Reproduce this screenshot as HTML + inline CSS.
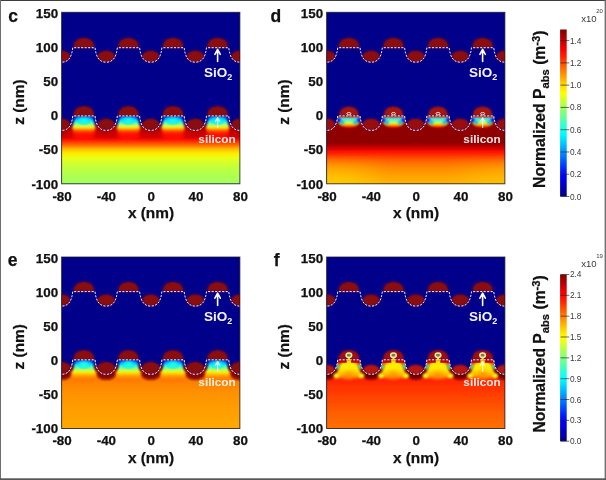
<!DOCTYPE html>
<html lang="en"><head><meta charset="utf-8"><title>Normalized absorbed power maps</title>
<style>
html,body{margin:0;padding:0;background:#fff;}
body{width:606px;height:480px;overflow:hidden;position:relative;font-family:"Liberation Sans",sans-serif;}
svg{position:absolute;left:0;top:0;display:block;font-family:"Liberation Sans",sans-serif;}
.frame{position:absolute;left:0;top:0;width:606px;height:480px;box-sizing:border-box;
 border-top:1px solid #3c3c3c;border-left:1px solid #7a7a7a;border-right:2px solid #777;border-bottom:2px solid #555;pointer-events:none;}
</style></head><body>
<svg width="606" height="480" viewBox="0 0 606 480">
<defs><filter id="b05" x="-10%" y="-10%" width="120%" height="120%"><feGaussianBlur stdDeviation="0.55"/></filter><filter id="b08" x="-10%" y="-10%" width="120%" height="120%"><feGaussianBlur stdDeviation="0.8"/></filter><filter id="b1" x="-30%" y="-30%" width="160%" height="160%"><feGaussianBlur stdDeviation="1.1"/></filter><filter id="b2" x="-40%" y="-40%" width="180%" height="180%"><feGaussianBlur stdDeviation="2"/></filter><filter id="b3" x="-50%" y="-50%" width="200%" height="200%"><feGaussianBlur stdDeviation="3"/></filter><filter id="bt" x="-10%" y="-10%" width="120%" height="120%"><feGaussianBlur stdDeviation="0.35"/></filter><clipPath id="cpPanel"><rect x="0" y="0" width="178.3" height="171.5"/></clipPath><clipPath id="cpSil"><path d="M -11.14,103.6 C -10.14,112.6 -7.3,118.1 0,118.1 C 7.3,118.1 10.14,112.6 11.14,103.6 L 33.43,103.6 C 34.43,112.6 37.28,118.1 44.58,118.1 C 51.88,118.1 54.72,112.6 55.72,103.6 L 78.01,103.6 C 79.01,112.6 81.85,118.1 89.15,118.1 C 96.45,118.1 99.29,112.6 100.29,103.6 L 122.58,103.6 C 123.58,112.6 126.43,118.1 133.73,118.1 C 141.03,118.1 143.87,112.6 144.87,103.6 L 167.16,103.6 C 168.16,112.6 171,118.1 178.3,118.1 C 185.6,118.1 188.44,112.6 189.44,103.6 L 189.44,176.5 L -11.14,176.5 Z"/></clipPath><clipPath id="cpAirL"><path d="M -11.14,103.6 C -10.14,112.6 -7.3,118.1 0,118.1 C 7.3,118.1 10.14,112.6 11.14,103.6 L 33.43,103.6 C 34.43,112.6 37.28,118.1 44.58,118.1 C 51.88,118.1 54.72,112.6 55.72,103.6 L 78.01,103.6 C 79.01,112.6 81.85,118.1 89.15,118.1 C 96.45,118.1 99.29,112.6 100.29,103.6 L 122.58,103.6 C 123.58,112.6 126.43,118.1 133.73,118.1 C 141.03,118.1 143.87,112.6 144.87,103.6 L 167.16,103.6 C 168.16,112.6 171,118.1 178.3,118.1 C 185.6,118.1 188.44,112.6 189.44,103.6 L 189.44,63.6 L -11.14,63.6 Z"/></clipPath><clipPath id="cpAirU"><path d="M -11.14,35.4 C -10.14,44.4 -7.3,49.9 0,49.9 C 7.3,49.9 10.14,44.4 11.14,35.4 L 33.43,35.4 C 34.43,44.4 37.28,49.9 44.58,49.9 C 51.88,49.9 54.72,44.4 55.72,35.4 L 78.01,35.4 C 79.01,44.4 81.85,49.9 89.15,49.9 C 96.45,49.9 99.29,44.4 100.29,35.4 L 122.58,35.4 C 123.58,44.4 126.43,49.9 133.73,49.9 C 141.03,49.9 143.87,44.4 144.87,35.4 L 167.16,35.4 C 168.16,44.4 171,49.9 178.3,49.9 C 185.6,49.9 188.44,44.4 189.44,35.4 L 189.44,-4.6 L -11.14,-4.6 Z"/></clipPath><linearGradient id="gbc" gradientUnits="userSpaceOnUse" x1="0" y1="103.6" x2="0" y2="171.5"><stop offset="0" stop-color="#fa0000"/><stop offset="0.2" stop-color="#f00000"/><stop offset="0.26" stop-color="#f50000"/><stop offset="0.32" stop-color="#ff0500"/><stop offset="0.37" stop-color="#ff2900"/><stop offset="0.43" stop-color="#ff6b00"/><stop offset="0.48" stop-color="#ffb300"/><stop offset="0.55" stop-color="#ffeb00"/><stop offset="0.62" stop-color="#ebff14"/><stop offset="0.7" stop-color="#d1ff2e"/><stop offset="0.79" stop-color="#bdff42"/><stop offset="0.89" stop-color="#adff52"/><stop offset="1" stop-color="#a3ff5c"/></linearGradient><linearGradient id="gpc" gradientUnits="userSpaceOnUse" x1="0" y1="103.6" x2="0" y2="126.6"><stop offset="0" stop-color="#0000fa"/><stop offset="0.07" stop-color="#0075ff"/><stop offset="0.17" stop-color="#00e5ff"/><stop offset="0.28" stop-color="#2effd1"/><stop offset="0.37" stop-color="#80ff80"/><stop offset="0.44" stop-color="#d1ff2e"/><stop offset="0.5" stop-color="#fff000"/><stop offset="0.57" stop-color="#ff9e00"/><stop offset="0.63" stop-color="#ff5700"/><stop offset="0.72" stop-color="#ff2400"/><stop offset="0.83" stop-color="#ff0f00"/><stop offset="1" stop-color="#ff0500"/></linearGradient><radialGradient id="rgc"><stop offset="0" stop-color="#1affe5" stop-opacity="0.95"/><stop offset="0.55" stop-color="#00f0ff" stop-opacity="0.6"/><stop offset="1" stop-color="#00b2ff" stop-opacity="0"/></radialGradient><linearGradient id="gbd" gradientUnits="userSpaceOnUse" x1="0" y1="103.6" x2="0" y2="171.5"><stop offset="0" stop-color="#8f0000"/><stop offset="0.4" stop-color="#8f0000"/><stop offset="0.44" stop-color="#b30000"/><stop offset="0.49" stop-color="#e50000"/><stop offset="0.55" stop-color="#ff1f00"/><stop offset="0.64" stop-color="#ff5700"/><stop offset="0.7" stop-color="#ff7300"/><stop offset="0.79" stop-color="#ff8f00"/><stop offset="0.92" stop-color="#ffa800"/><stop offset="1" stop-color="#ffb300"/></linearGradient><linearGradient id="gpd" gradientUnits="userSpaceOnUse" x1="0" y1="103.6" x2="0" y2="116.1"><stop offset="0" stop-color="#9e0000"/><stop offset="0.14" stop-color="#b30000"/><stop offset="0.21" stop-color="#05fffa"/><stop offset="0.34" stop-color="#2effd1"/><stop offset="0.48" stop-color="#94ff6b"/><stop offset="0.62" stop-color="#fff000"/><stop offset="0.74" stop-color="#ff8a00"/><stop offset="0.85" stop-color="#ff0f00"/><stop offset="1" stop-color="#9e0000"/></linearGradient><linearGradient id="gdh" gradientUnits="userSpaceOnUse" x1="0" y1="0" x2="178.3" y2="0"><stop offset="0" stop-color="#ffd800" stop-opacity="0.62"/><stop offset="0.16" stop-color="#ffd800" stop-opacity="0.45"/><stop offset="0.36" stop-color="#ffd000" stop-opacity="0"/><stop offset="0.66" stop-color="#ffd000" stop-opacity="0"/><stop offset="0.88" stop-color="#ffd400" stop-opacity="0.3"/><stop offset="1" stop-color="#ffd400" stop-opacity="0.4"/></linearGradient><linearGradient id="gdv" gradientUnits="userSpaceOnUse" x1="0" y1="141.6" x2="0" y2="165.6"><stop offset="0" stop-color="#000"/><stop offset="0.35" stop-color="#555"/><stop offset="1" stop-color="#fff"/></linearGradient><mask id="mdv" maskUnits="userSpaceOnUse" x="0" y="139.6" width="178.3" height="40"><rect x="0" y="139.6" width="178.3" height="40" fill="url(#gdv)"/></mask><linearGradient id="gbe" gradientUnits="userSpaceOnUse" x1="0" y1="103.6" x2="0" y2="171.5"><stop offset="0" stop-color="#ff7500"/><stop offset="0.21" stop-color="#ff7500"/><stop offset="0.32" stop-color="#ff8000"/><stop offset="0.46" stop-color="#ff8f00"/><stop offset="0.68" stop-color="#ff9c00"/><stop offset="1" stop-color="#ffa800"/></linearGradient><linearGradient id="gpe" gradientUnits="userSpaceOnUse" x1="0" y1="103.6" x2="0" y2="126.6"><stop offset="0" stop-color="#0000fa"/><stop offset="0.09" stop-color="#0080ff"/><stop offset="0.2" stop-color="#00f0ff"/><stop offset="0.3" stop-color="#38ffc7"/><stop offset="0.39" stop-color="#8aff75"/><stop offset="0.48" stop-color="#d6ff29"/><stop offset="0.54" stop-color="#fff000"/><stop offset="0.61" stop-color="#ffc700"/><stop offset="0.7" stop-color="#ff9e00"/><stop offset="0.78" stop-color="#ff8000"/><stop offset="1" stop-color="#ff7500"/></linearGradient><radialGradient id="rge"><stop offset="0" stop-color="#2effd1" stop-opacity="0.95"/><stop offset="0.55" stop-color="#00faff" stop-opacity="0.6"/><stop offset="1" stop-color="#00b2ff" stop-opacity="0"/></radialGradient><linearGradient id="gbf" gradientUnits="userSpaceOnUse" x1="0" y1="103.6" x2="0" y2="171.5"><stop offset="0" stop-color="#ff2400"/><stop offset="0.21" stop-color="#ff2400"/><stop offset="0.32" stop-color="#ff2700"/><stop offset="0.54" stop-color="#ff4200"/><stop offset="0.76" stop-color="#ff5c00"/><stop offset="1" stop-color="#ff7000"/></linearGradient><linearGradient id="gpf" gradientUnits="userSpaceOnUse" x1="0" y1="103.6" x2="0" y2="125.1"><stop offset="0" stop-color="#ffdb00"/><stop offset="0.28" stop-color="#fff000"/><stop offset="0.51" stop-color="#ffe000"/><stop offset="0.7" stop-color="#ffb300"/><stop offset="0.86" stop-color="#ff6100"/><stop offset="1" stop-color="#ff1a00"/></linearGradient><linearGradient id="gcb1" gradientUnits="userSpaceOnUse" x1="0" y1="29.5" x2="0" y2="196.5"><stop offset="0" stop-color="#800000"/><stop offset="0.03" stop-color="#9f0000"/><stop offset="0.06" stop-color="#bf0000"/><stop offset="0.09" stop-color="#df0000"/><stop offset="0.12" stop-color="#ff0000"/><stop offset="0.16" stop-color="#ff2000"/><stop offset="0.19" stop-color="#ff4000"/><stop offset="0.22" stop-color="#ff6000"/><stop offset="0.25" stop-color="#ff8000"/><stop offset="0.28" stop-color="#ff9f00"/><stop offset="0.31" stop-color="#ffbf00"/><stop offset="0.34" stop-color="#ffdf00"/><stop offset="0.38" stop-color="#ffff00"/><stop offset="0.41" stop-color="#dfff20"/><stop offset="0.44" stop-color="#bfff40"/><stop offset="0.47" stop-color="#9fff60"/><stop offset="0.5" stop-color="#80ff80"/><stop offset="0.53" stop-color="#60ff9f"/><stop offset="0.56" stop-color="#40ffbf"/><stop offset="0.59" stop-color="#20ffdf"/><stop offset="0.62" stop-color="#00ffff"/><stop offset="0.66" stop-color="#00dfff"/><stop offset="0.69" stop-color="#00bfff"/><stop offset="0.72" stop-color="#009fff"/><stop offset="0.75" stop-color="#0080ff"/><stop offset="0.78" stop-color="#0060ff"/><stop offset="0.81" stop-color="#0040ff"/><stop offset="0.84" stop-color="#0020ff"/><stop offset="0.88" stop-color="#0000ff"/><stop offset="0.91" stop-color="#0000df"/><stop offset="0.94" stop-color="#0000bf"/><stop offset="0.97" stop-color="#00009f"/><stop offset="1" stop-color="#000080"/></linearGradient><linearGradient id="gcb2" gradientUnits="userSpaceOnUse" x1="0" y1="274.5" x2="0" y2="441.2"><stop offset="0" stop-color="#800000"/><stop offset="0.03" stop-color="#9f0000"/><stop offset="0.06" stop-color="#bf0000"/><stop offset="0.09" stop-color="#df0000"/><stop offset="0.12" stop-color="#ff0000"/><stop offset="0.16" stop-color="#ff2000"/><stop offset="0.19" stop-color="#ff4000"/><stop offset="0.22" stop-color="#ff6000"/><stop offset="0.25" stop-color="#ff8000"/><stop offset="0.28" stop-color="#ff9f00"/><stop offset="0.31" stop-color="#ffbf00"/><stop offset="0.34" stop-color="#ffdf00"/><stop offset="0.38" stop-color="#ffff00"/><stop offset="0.41" stop-color="#dfff20"/><stop offset="0.44" stop-color="#bfff40"/><stop offset="0.47" stop-color="#9fff60"/><stop offset="0.5" stop-color="#80ff80"/><stop offset="0.53" stop-color="#60ff9f"/><stop offset="0.56" stop-color="#40ffbf"/><stop offset="0.59" stop-color="#20ffdf"/><stop offset="0.62" stop-color="#00ffff"/><stop offset="0.66" stop-color="#00dfff"/><stop offset="0.69" stop-color="#00bfff"/><stop offset="0.72" stop-color="#009fff"/><stop offset="0.75" stop-color="#0080ff"/><stop offset="0.78" stop-color="#0060ff"/><stop offset="0.81" stop-color="#0040ff"/><stop offset="0.84" stop-color="#0020ff"/><stop offset="0.88" stop-color="#0000ff"/><stop offset="0.91" stop-color="#0000df"/><stop offset="0.94" stop-color="#0000bf"/><stop offset="0.97" stop-color="#00009f"/><stop offset="1" stop-color="#000080"/></linearGradient></defs>
<g transform="translate(61.6,12.3)"><g clip-path="url(#cpPanel)"><rect x="-1" y="-1" width="180.3" height="173.5" fill="#00008a"/><g transform="translate(0,0)"><g filter="url(#b05)"><path d="M -11.14,103.6 C -10.14,112.6 -7.3,118.1 0,118.1 C 7.3,118.1 10.14,112.6 11.14,103.6 L 33.43,103.6 C 34.43,112.6 37.28,118.1 44.58,118.1 C 51.88,118.1 54.72,112.6 55.72,103.6 L 78.01,103.6 C 79.01,112.6 81.85,118.1 89.15,118.1 C 96.45,118.1 99.29,112.6 100.29,103.6 L 122.58,103.6 C 123.58,112.6 126.43,118.1 133.73,118.1 C 141.03,118.1 143.87,112.6 144.87,103.6 L 167.16,103.6 C 168.16,112.6 171,118.1 178.3,118.1 C 185.6,118.1 188.44,112.6 189.44,103.6 L 189.44,176.5 L -11.14,176.5 Z" fill="url(#gbc)"/></g><g clip-path="url(#cpSil)"><g filter="url(#b2)" fill="#900606" opacity="1"><ellipse cx="0" cy="117.1" rx="11.5" ry="5.5"/><ellipse cx="44.58" cy="117.1" rx="11.5" ry="5.5"/><ellipse cx="89.15" cy="117.1" rx="11.5" ry="5.5"/><ellipse cx="133.73" cy="117.1" rx="11.5" ry="5.5"/><ellipse cx="178.3" cy="117.1" rx="11.5" ry="5.5"/></g><g filter="url(#b1)"><rect x="10.64" y="101.6" width="23.29" height="24" fill="url(#gpc)"/><rect x="55.22" y="101.6" width="23.29" height="24" fill="url(#gpc)"/><rect x="99.79" y="101.6" width="23.29" height="24" fill="url(#gpc)"/><rect x="144.37" y="101.6" width="23.29" height="24" fill="url(#gpc)"/></g><g filter="url(#b2)" fill="#c70000" opacity="0.85"><path d="M -12.64,125.6 L -9.94,115.6 L 9.94,115.6 L 12.64,125.6 Z"/><path d="M 31.93,125.6 L 34.63,115.6 L 54.52,115.6 L 57.22,125.6 Z"/><path d="M 76.51,125.6 L 79.21,115.6 L 99.09,115.6 L 101.79,125.6 Z"/><path d="M 121.08,125.6 L 123.78,115.6 L 143.67,115.6 L 146.37,125.6 Z"/><path d="M 165.66,125.6 L 168.36,115.6 L 188.24,115.6 L 190.94,125.6 Z"/></g><ellipse cx="22.29" cy="108.1" rx="8" ry="5.5" fill="url(#rgc)"/><ellipse cx="66.86" cy="108.1" rx="8" ry="5.5" fill="url(#rgc)"/><ellipse cx="111.44" cy="108.1" rx="8" ry="5.5" fill="url(#rgc)"/><ellipse cx="156.01" cy="108.1" rx="8" ry="5.5" fill="url(#rgc)"/><g filter="url(#b08)" fill="#000096" opacity="0.95"><path d="M 14.54,103.9 L 10.34,103.9 L 7.94,114.6 L 10.74,113.6 Z"/><path d="M 30.03,103.9 L 34.23,103.9 L 36.63,114.6 L 33.83,113.6 Z"/><path d="M 59.12,103.9 L 54.92,103.9 L 52.52,114.6 L 55.32,113.6 Z"/><path d="M 74.61,103.9 L 78.81,103.9 L 81.21,114.6 L 78.41,113.6 Z"/><path d="M 103.69,103.9 L 99.49,103.9 L 97.09,114.6 L 99.89,113.6 Z"/><path d="M 119.18,103.9 L 123.38,103.9 L 125.78,114.6 L 122.98,113.6 Z"/><path d="M 148.27,103.9 L 144.07,103.9 L 141.67,114.6 L 144.47,113.6 Z"/><path d="M 163.76,103.9 L 167.96,103.9 L 170.36,114.6 L 167.56,113.6 Z"/></g></g><g filter="url(#b08)"><g fill="#8c0808"><path d="M 11.99,35.4 C 11.39,29.46 15.9,25.5 22.29,25.5 C 28.67,25.5 33.19,29.46 32.59,35.4 Z"/><path d="M 56.56,35.4 C 55.96,29.46 60.48,25.5 66.86,25.5 C 73.25,25.5 77.76,29.46 77.16,35.4 Z"/><path d="M 101.14,35.4 C 100.54,29.46 105.05,25.5 111.44,25.5 C 117.82,25.5 122.34,29.46 121.74,35.4 Z"/><path d="M 145.71,35.4 C 145.11,29.46 149.63,25.5 156.01,25.5 C 162.4,25.5 166.91,29.46 166.31,35.4 Z"/></g><g fill="#8c0808" clip-path="url(#cpAirU)"><ellipse cx="0" cy="44.1" rx="8.8" ry="6"/><ellipse cx="44.58" cy="44.1" rx="8.8" ry="6"/><ellipse cx="89.15" cy="44.1" rx="8.8" ry="6"/><ellipse cx="133.73" cy="44.1" rx="8.8" ry="6"/><ellipse cx="178.3" cy="44.1" rx="8.8" ry="6"/></g></g><g filter="url(#b08)"><g fill="#8c0808"><path d="M 11.99,103.6 C 11.39,97.66 15.9,93.7 22.29,93.7 C 28.67,93.7 33.19,97.66 32.59,103.6 Z"/><path d="M 56.56,103.6 C 55.96,97.66 60.48,93.7 66.86,93.7 C 73.25,93.7 77.76,97.66 77.16,103.6 Z"/><path d="M 101.14,103.6 C 100.54,97.66 105.05,93.7 111.44,93.7 C 117.82,93.7 122.34,97.66 121.74,103.6 Z"/><path d="M 145.71,103.6 C 145.11,97.66 149.63,93.7 156.01,93.7 C 162.4,93.7 166.91,97.66 166.31,103.6 Z"/></g><g fill="#8c0808" clip-path="url(#cpAirL)"><ellipse cx="0" cy="112.3" rx="8.8" ry="6"/><ellipse cx="44.58" cy="112.3" rx="8.8" ry="6"/><ellipse cx="89.15" cy="112.3" rx="8.8" ry="6"/><ellipse cx="133.73" cy="112.3" rx="8.8" ry="6"/><ellipse cx="178.3" cy="112.3" rx="8.8" ry="6"/></g></g><path d="M -11.14,35.4 C -10.14,44.4 -7.3,49.9 0,49.9 C 7.3,49.9 10.14,44.4 11.14,35.4 L 33.43,35.4 C 34.43,44.4 37.28,49.9 44.58,49.9 C 51.88,49.9 54.72,44.4 55.72,35.4 L 78.01,35.4 C 79.01,44.4 81.85,49.9 89.15,49.9 C 96.45,49.9 99.29,44.4 100.29,35.4 L 122.58,35.4 C 123.58,44.4 126.43,49.9 133.73,49.9 C 141.03,49.9 143.87,44.4 144.87,35.4 L 167.16,35.4 C 168.16,44.4 171,49.9 178.3,49.9 C 185.6,49.9 188.44,44.4 189.44,35.4 " fill="none" stroke="#f4ecff" stroke-width="1.0" stroke-dasharray="2.1 1.4" filter="url(#bt)"/><path d="M -11.14,103.6 C -10.14,112.6 -7.3,118.1 0,118.1 C 7.3,118.1 10.14,112.6 11.14,103.6 L 33.43,103.6 C 34.43,112.6 37.28,118.1 44.58,118.1 C 51.88,118.1 54.72,112.6 55.72,103.6 L 78.01,103.6 C 79.01,112.6 81.85,118.1 89.15,118.1 C 96.45,118.1 99.29,112.6 100.29,103.6 L 122.58,103.6 C 123.58,112.6 126.43,118.1 133.73,118.1 C 141.03,118.1 143.87,112.6 144.87,103.6 L 167.16,103.6 C 168.16,112.6 171,118.1 178.3,118.1 C 185.6,118.1 188.44,112.6 189.44,103.6 " fill="none" stroke="#f4ecff" stroke-width="1.0" stroke-dasharray="2.1 1.4" filter="url(#bt)"/><g filter="url(#bt)"><g stroke="#ffffff" stroke-opacity="1" fill="none" stroke-width="1.6" stroke-linecap="round" stroke-linejoin="round"><path d="M 156.01,49.2 L 156.01,37.5 M 153.31,42 L 156.01,37 L 158.71,42"/></g><text x="142.41" y="64.8" font-size="13.5" font-weight="700" fill="#f6f2ff">SiO<tspan font-size="9" dy="3.2">2</tspan></text><g stroke="#ffffff" stroke-opacity="0.8" fill="none" stroke-width="1.2" stroke-linecap="round" stroke-linejoin="round"><path d="M 156.01,115.1 L 156.01,105.9 M 154.01,108.9 L 156.01,105.4 L 158.01,108.9"/></g><text x="155.41" y="130.5" font-size="11.8" font-weight="700" fill="#ffffff" fill-opacity="0.9" text-anchor="middle">silicon</text></g></g></g><rect x="0" y="0" width="178.3" height="171.5" fill="none" stroke="#1a1a2a" stroke-opacity="0.75" stroke-width="1"/></g><g font-weight="700" fill="#111" stroke="#111" stroke-width="0.25"><text x="8.3" y="22" font-size="17.5">c</text><text x="58.2" y="18.4" font-size="13.4" text-anchor="end">150</text><text x="58.2" y="52.42" font-size="13.4" text-anchor="end">100</text><text x="58.2" y="86.44" font-size="13.4" text-anchor="end">50</text><text x="58.2" y="120.46" font-size="13.4" text-anchor="end">0</text><text x="58.2" y="154.48" font-size="13.4" text-anchor="end">-50</text><text x="58.2" y="188.5" font-size="13.4" text-anchor="end">-100</text><text x="62.1" y="200.6" font-size="13.4" text-anchor="middle">-80</text><text x="106.38" y="200.6" font-size="13.4" text-anchor="middle">-40</text><text x="151.35" y="200.6" font-size="13.4" text-anchor="middle">0</text><text x="195.93" y="200.6" font-size="13.4" text-anchor="middle">40</text><text x="240.5" y="200.6" font-size="13.4" text-anchor="middle">80</text><text x="151" y="218.2" font-size="15.4" text-anchor="middle">x (nm)</text><text transform="translate(24.2,102.1) rotate(-90)" font-size="15.4" text-anchor="middle">z (nm)</text></g><g transform="translate(326.6,12.3)"><g clip-path="url(#cpPanel)"><rect x="-1" y="-1" width="180.3" height="173.5" fill="#00008a"/><g transform="translate(0,0)"><g filter="url(#b05)"><path d="M -11.14,103.6 C -10.14,112.6 -7.3,118.1 0,118.1 C 7.3,118.1 10.14,112.6 11.14,103.6 L 33.43,103.6 C 34.43,112.6 37.28,118.1 44.58,118.1 C 51.88,118.1 54.72,112.6 55.72,103.6 L 78.01,103.6 C 79.01,112.6 81.85,118.1 89.15,118.1 C 96.45,118.1 99.29,112.6 100.29,103.6 L 122.58,103.6 C 123.58,112.6 126.43,118.1 133.73,118.1 C 141.03,118.1 143.87,112.6 144.87,103.6 L 167.16,103.6 C 168.16,112.6 171,118.1 178.3,118.1 C 185.6,118.1 188.44,112.6 189.44,103.6 L 189.44,176.5 L -11.14,176.5 Z" fill="url(#gbd)"/></g><g clip-path="url(#cpSil)"><g filter="url(#b1)"><path d="M 11.14,104.1 L 33.43,104.1 C 34.63,111.1 28.79,115.8 22.29,115.8 C 15.79,115.8 9.94,111.1 11.14,104.1 Z" fill="url(#gpd)"/><path d="M 55.72,104.1 L 78.01,104.1 C 79.21,111.1 73.36,115.8 66.86,115.8 C 60.36,115.8 54.52,111.1 55.72,104.1 Z" fill="url(#gpd)"/><path d="M 100.29,104.1 L 122.58,104.1 C 123.78,111.1 117.94,115.8 111.44,115.8 C 104.94,115.8 99.09,111.1 100.29,104.1 Z" fill="url(#gpd)"/><path d="M 144.87,104.1 L 167.16,104.1 C 168.36,111.1 162.51,115.8 156.01,115.8 C 149.51,115.8 143.67,111.1 144.87,104.1 Z" fill="url(#gpd)"/></g><g filter="url(#b1)" fill="#0000fa"><ellipse cx="12.39" cy="107.9" rx="2.0" ry="2.2"/><ellipse cx="32.19" cy="107.9" rx="2.0" ry="2.2"/><ellipse cx="56.96" cy="107.9" rx="2.0" ry="2.2"/><ellipse cx="76.76" cy="107.9" rx="2.0" ry="2.2"/><ellipse cx="101.54" cy="107.9" rx="2.0" ry="2.2"/><ellipse cx="121.34" cy="107.9" rx="2.0" ry="2.2"/><ellipse cx="146.11" cy="107.9" rx="2.0" ry="2.2"/><ellipse cx="165.91" cy="107.9" rx="2.0" ry="2.2"/></g><g filter="url(#b1)" fill="#009eff" opacity="0.8"><ellipse cx="15.69" cy="110.2" rx="2.2" ry="2.2"/><ellipse cx="28.89" cy="110.2" rx="2.2" ry="2.2"/><ellipse cx="60.26" cy="110.2" rx="2.2" ry="2.2"/><ellipse cx="73.46" cy="110.2" rx="2.2" ry="2.2"/><ellipse cx="104.84" cy="110.2" rx="2.2" ry="2.2"/><ellipse cx="118.04" cy="110.2" rx="2.2" ry="2.2"/><ellipse cx="149.41" cy="110.2" rx="2.2" ry="2.2"/><ellipse cx="162.61" cy="110.2" rx="2.2" ry="2.2"/></g></g><g filter="url(#b08)"><g fill="#8c0808"><path d="M 11.99,35.4 C 11.39,29.46 15.9,25.5 22.29,25.5 C 28.67,25.5 33.19,29.46 32.59,35.4 Z"/><path d="M 56.56,35.4 C 55.96,29.46 60.48,25.5 66.86,25.5 C 73.25,25.5 77.76,29.46 77.16,35.4 Z"/><path d="M 101.14,35.4 C 100.54,29.46 105.05,25.5 111.44,25.5 C 117.82,25.5 122.34,29.46 121.74,35.4 Z"/><path d="M 145.71,35.4 C 145.11,29.46 149.63,25.5 156.01,25.5 C 162.4,25.5 166.91,29.46 166.31,35.4 Z"/></g><g fill="#8c0808" clip-path="url(#cpAirU)"><ellipse cx="0" cy="44.1" rx="8.8" ry="6"/><ellipse cx="44.58" cy="44.1" rx="8.8" ry="6"/><ellipse cx="89.15" cy="44.1" rx="8.8" ry="6"/><ellipse cx="133.73" cy="44.1" rx="8.8" ry="6"/><ellipse cx="178.3" cy="44.1" rx="8.8" ry="6"/></g></g><g filter="url(#b08)"><g fill="#a51208"><path d="M 12.59,103.6 C 11.99,98.02 16.27,94.3 22.29,94.3 C 28.3,94.3 32.59,98.02 31.99,103.6 Z"/><path d="M 57.16,103.6 C 56.56,98.02 60.85,94.3 66.86,94.3 C 72.88,94.3 77.16,98.02 76.56,103.6 Z"/><path d="M 101.74,103.6 C 101.14,98.02 105.42,94.3 111.44,94.3 C 117.45,94.3 121.74,98.02 121.14,103.6 Z"/><path d="M 146.31,103.6 C 145.71,98.02 150,94.3 156.01,94.3 C 162.03,94.3 166.31,98.02 165.71,103.6 Z"/></g><g fill="#9a0c0c" clip-path="url(#cpAirL)"><ellipse cx="0" cy="112.3" rx="8.8" ry="6"/><ellipse cx="44.58" cy="112.3" rx="8.8" ry="6"/><ellipse cx="89.15" cy="112.3" rx="8.8" ry="6"/><ellipse cx="133.73" cy="112.3" rx="8.8" ry="6"/><ellipse cx="178.3" cy="112.3" rx="8.8" ry="6"/></g></g><rect x="0" y="141.6" width="178.3" height="34" fill="url(#gdh)" mask="url(#mdv)"/><g filter="url(#bt)"><ellipse cx="22.29" cy="101.4" rx="2.0" ry="1.3" fill="#c02020" stroke="#ffe8e0" stroke-width="0.9"/><ellipse cx="66.86" cy="101.4" rx="2.0" ry="1.3" fill="#c02020" stroke="#ffe8e0" stroke-width="0.9"/><ellipse cx="111.44" cy="101.4" rx="2.0" ry="1.3" fill="#c02020" stroke="#ffe8e0" stroke-width="0.9"/><ellipse cx="156.01" cy="101.4" rx="2.0" ry="1.3" fill="#c02020" stroke="#ffe8e0" stroke-width="0.9"/></g><path d="M -11.14,35.4 C -10.14,44.4 -7.3,49.9 0,49.9 C 7.3,49.9 10.14,44.4 11.14,35.4 L 33.43,35.4 C 34.43,44.4 37.28,49.9 44.58,49.9 C 51.88,49.9 54.72,44.4 55.72,35.4 L 78.01,35.4 C 79.01,44.4 81.85,49.9 89.15,49.9 C 96.45,49.9 99.29,44.4 100.29,35.4 L 122.58,35.4 C 123.58,44.4 126.43,49.9 133.73,49.9 C 141.03,49.9 143.87,44.4 144.87,35.4 L 167.16,35.4 C 168.16,44.4 171,49.9 178.3,49.9 C 185.6,49.9 188.44,44.4 189.44,35.4 " fill="none" stroke="#f4ecff" stroke-width="1.0" stroke-dasharray="2.1 1.4" filter="url(#bt)"/><path d="M -11.14,103.6 C -10.14,112.6 -7.3,118.1 0,118.1 C 7.3,118.1 10.14,112.6 11.14,103.6 L 33.43,103.6 C 34.43,112.6 37.28,118.1 44.58,118.1 C 51.88,118.1 54.72,112.6 55.72,103.6 L 78.01,103.6 C 79.01,112.6 81.85,118.1 89.15,118.1 C 96.45,118.1 99.29,112.6 100.29,103.6 L 122.58,103.6 C 123.58,112.6 126.43,118.1 133.73,118.1 C 141.03,118.1 143.87,112.6 144.87,103.6 L 167.16,103.6 C 168.16,112.6 171,118.1 178.3,118.1 C 185.6,118.1 188.44,112.6 189.44,103.6 " fill="none" stroke="#f4ecff" stroke-width="1.0" stroke-dasharray="2.1 1.4" filter="url(#bt)"/><g filter="url(#bt)"><g stroke="#ffffff" stroke-opacity="1" fill="none" stroke-width="1.6" stroke-linecap="round" stroke-linejoin="round"><path d="M 156.01,49.2 L 156.01,37.5 M 153.31,42 L 156.01,37 L 158.71,42"/></g><text x="142.41" y="64.8" font-size="13.5" font-weight="700" fill="#f6f2ff">SiO<tspan font-size="9" dy="3.2">2</tspan></text><g stroke="#ffffff" stroke-opacity="0.8" fill="none" stroke-width="1.2" stroke-linecap="round" stroke-linejoin="round"><path d="M 156.01,115.1 L 156.01,105.9 M 154.01,108.9 L 156.01,105.4 L 158.01,108.9"/></g><text x="155.41" y="130.5" font-size="11.8" font-weight="700" fill="#ffffff" fill-opacity="0.9" text-anchor="middle">silicon</text></g></g></g><rect x="0" y="0" width="178.3" height="171.5" fill="none" stroke="#1a1a2a" stroke-opacity="0.75" stroke-width="1"/></g><g font-weight="700" fill="#111" stroke="#111" stroke-width="0.25"><text x="270.6" y="21.5" font-size="17.5">d</text><text x="323.2" y="18.4" font-size="13.4" text-anchor="end">150</text><text x="323.2" y="52.42" font-size="13.4" text-anchor="end">100</text><text x="323.2" y="86.44" font-size="13.4" text-anchor="end">50</text><text x="323.2" y="120.46" font-size="13.4" text-anchor="end">0</text><text x="323.2" y="154.48" font-size="13.4" text-anchor="end">-50</text><text x="323.2" y="188.5" font-size="13.4" text-anchor="end">-100</text><text x="327.1" y="200.6" font-size="13.4" text-anchor="middle">-80</text><text x="371.38" y="200.6" font-size="13.4" text-anchor="middle">-40</text><text x="416.35" y="200.6" font-size="13.4" text-anchor="middle">0</text><text x="460.93" y="200.6" font-size="13.4" text-anchor="middle">40</text><text x="505.5" y="200.6" font-size="13.4" text-anchor="middle">80</text><text x="416" y="218.2" font-size="15.4" text-anchor="middle">x (nm)</text><text transform="translate(289.2,102.1) rotate(-90)" font-size="15.4" text-anchor="middle">z (nm)</text></g><g transform="translate(61.6,257)"><g clip-path="url(#cpPanel)"><rect x="-1" y="-1" width="180.3" height="173.5" fill="#00008a"/><g transform="translate(0,-0.8)"><g filter="url(#b05)"><path d="M -11.14,103.6 C -10.14,112.6 -7.3,118.1 0,118.1 C 7.3,118.1 10.14,112.6 11.14,103.6 L 33.43,103.6 C 34.43,112.6 37.28,118.1 44.58,118.1 C 51.88,118.1 54.72,112.6 55.72,103.6 L 78.01,103.6 C 79.01,112.6 81.85,118.1 89.15,118.1 C 96.45,118.1 99.29,112.6 100.29,103.6 L 122.58,103.6 C 123.58,112.6 126.43,118.1 133.73,118.1 C 141.03,118.1 143.87,112.6 144.87,103.6 L 167.16,103.6 C 168.16,112.6 171,118.1 178.3,118.1 C 185.6,118.1 188.44,112.6 189.44,103.6 L 189.44,176.5 L -11.14,176.5 Z" fill="url(#gbe)"/></g><g clip-path="url(#cpSil)"><g filter="url(#b1)" fill="#8c0808" opacity="1"><ellipse cx="0" cy="118.4" rx="9.5" ry="5.4"/><ellipse cx="44.58" cy="118.4" rx="9.5" ry="5.4"/><ellipse cx="89.15" cy="118.4" rx="9.5" ry="5.4"/><ellipse cx="133.73" cy="118.4" rx="9.5" ry="5.4"/><ellipse cx="178.3" cy="118.4" rx="9.5" ry="5.4"/></g><g filter="url(#b1)"><rect x="10.64" y="101.6" width="23.29" height="24" fill="url(#gpe)"/><rect x="55.22" y="101.6" width="23.29" height="24" fill="url(#gpe)"/><rect x="99.79" y="101.6" width="23.29" height="24" fill="url(#gpe)"/><rect x="144.37" y="101.6" width="23.29" height="24" fill="url(#gpe)"/></g><ellipse cx="22.29" cy="108.1" rx="7.5" ry="5.5" fill="url(#rge)"/><ellipse cx="66.86" cy="108.1" rx="7.5" ry="5.5" fill="url(#rge)"/><ellipse cx="111.44" cy="108.1" rx="7.5" ry="5.5" fill="url(#rge)"/><ellipse cx="156.01" cy="108.1" rx="7.5" ry="5.5" fill="url(#rge)"/><g filter="url(#b08)" fill="#000096" opacity="0.95"><path d="M 14.54,103.9 L 10.34,103.9 L 7.94,114.6 L 10.74,113.6 Z"/><path d="M 30.03,103.9 L 34.23,103.9 L 36.63,114.6 L 33.83,113.6 Z"/><path d="M 59.12,103.9 L 54.92,103.9 L 52.52,114.6 L 55.32,113.6 Z"/><path d="M 74.61,103.9 L 78.81,103.9 L 81.21,114.6 L 78.41,113.6 Z"/><path d="M 103.69,103.9 L 99.49,103.9 L 97.09,114.6 L 99.89,113.6 Z"/><path d="M 119.18,103.9 L 123.38,103.9 L 125.78,114.6 L 122.98,113.6 Z"/><path d="M 148.27,103.9 L 144.07,103.9 L 141.67,114.6 L 144.47,113.6 Z"/><path d="M 163.76,103.9 L 167.96,103.9 L 170.36,114.6 L 167.56,113.6 Z"/></g><g filter="url(#b1)" fill="none" stroke="#7a0505" stroke-width="4" opacity="0.8"><path d="M -10.54,108.6 C -9.54,114.1 -6.6,118.1 0,118.1 C 6.6,118.1 9.54,114.1 10.54,108.6"/><path d="M 34.03,108.6 C 35.03,114.1 37.98,118.1 44.58,118.1 C 51.18,118.1 54.12,114.1 55.12,108.6"/><path d="M 78.61,108.6 C 79.61,114.1 82.55,118.1 89.15,118.1 C 95.75,118.1 98.69,114.1 99.69,108.6"/><path d="M 123.18,108.6 C 124.18,114.1 127.13,118.1 133.73,118.1 C 140.33,118.1 143.27,114.1 144.27,108.6"/><path d="M 167.76,108.6 C 168.76,114.1 171.7,118.1 178.3,118.1 C 184.9,118.1 187.84,114.1 188.84,108.6"/></g></g><g filter="url(#b08)"><g fill="#8c0808"><path d="M 11.99,35.4 C 11.39,29.46 15.9,25.5 22.29,25.5 C 28.67,25.5 33.19,29.46 32.59,35.4 Z"/><path d="M 56.56,35.4 C 55.96,29.46 60.48,25.5 66.86,25.5 C 73.25,25.5 77.76,29.46 77.16,35.4 Z"/><path d="M 101.14,35.4 C 100.54,29.46 105.05,25.5 111.44,25.5 C 117.82,25.5 122.34,29.46 121.74,35.4 Z"/><path d="M 145.71,35.4 C 145.11,29.46 149.63,25.5 156.01,25.5 C 162.4,25.5 166.91,29.46 166.31,35.4 Z"/></g><g fill="#8c0808" clip-path="url(#cpAirU)"><ellipse cx="0" cy="44.1" rx="8.8" ry="6"/><ellipse cx="44.58" cy="44.1" rx="8.8" ry="6"/><ellipse cx="89.15" cy="44.1" rx="8.8" ry="6"/><ellipse cx="133.73" cy="44.1" rx="8.8" ry="6"/><ellipse cx="178.3" cy="44.1" rx="8.8" ry="6"/></g></g><g filter="url(#b08)"><g fill="#8c0808"><path d="M 11.99,103.6 C 11.39,97.66 15.9,93.7 22.29,93.7 C 28.67,93.7 33.19,97.66 32.59,103.6 Z"/><path d="M 56.56,103.6 C 55.96,97.66 60.48,93.7 66.86,93.7 C 73.25,93.7 77.76,97.66 77.16,103.6 Z"/><path d="M 101.14,103.6 C 100.54,97.66 105.05,93.7 111.44,93.7 C 117.82,93.7 122.34,97.66 121.74,103.6 Z"/><path d="M 145.71,103.6 C 145.11,97.66 149.63,93.7 156.01,93.7 C 162.4,93.7 166.91,97.66 166.31,103.6 Z"/></g><g fill="#8c0808" clip-path="url(#cpAirL)"><ellipse cx="0" cy="111.9" rx="9.2" ry="6.4"/><ellipse cx="44.58" cy="111.9" rx="9.2" ry="6.4"/><ellipse cx="89.15" cy="111.9" rx="9.2" ry="6.4"/><ellipse cx="133.73" cy="111.9" rx="9.2" ry="6.4"/><ellipse cx="178.3" cy="111.9" rx="9.2" ry="6.4"/></g></g><path d="M -11.14,35.4 C -10.14,44.4 -7.3,49.9 0,49.9 C 7.3,49.9 10.14,44.4 11.14,35.4 L 33.43,35.4 C 34.43,44.4 37.28,49.9 44.58,49.9 C 51.88,49.9 54.72,44.4 55.72,35.4 L 78.01,35.4 C 79.01,44.4 81.85,49.9 89.15,49.9 C 96.45,49.9 99.29,44.4 100.29,35.4 L 122.58,35.4 C 123.58,44.4 126.43,49.9 133.73,49.9 C 141.03,49.9 143.87,44.4 144.87,35.4 L 167.16,35.4 C 168.16,44.4 171,49.9 178.3,49.9 C 185.6,49.9 188.44,44.4 189.44,35.4 " fill="none" stroke="#f4ecff" stroke-width="1.0" stroke-dasharray="2.1 1.4" filter="url(#bt)"/><path d="M -11.14,103.6 C -10.14,112.6 -7.3,118.1 0,118.1 C 7.3,118.1 10.14,112.6 11.14,103.6 L 33.43,103.6 C 34.43,112.6 37.28,118.1 44.58,118.1 C 51.88,118.1 54.72,112.6 55.72,103.6 L 78.01,103.6 C 79.01,112.6 81.85,118.1 89.15,118.1 C 96.45,118.1 99.29,112.6 100.29,103.6 L 122.58,103.6 C 123.58,112.6 126.43,118.1 133.73,118.1 C 141.03,118.1 143.87,112.6 144.87,103.6 L 167.16,103.6 C 168.16,112.6 171,118.1 178.3,118.1 C 185.6,118.1 188.44,112.6 189.44,103.6 " fill="none" stroke="#f4ecff" stroke-width="1.0" stroke-dasharray="2.1 1.4" filter="url(#bt)"/><g filter="url(#bt)"><g stroke="#ffffff" stroke-opacity="1" fill="none" stroke-width="1.6" stroke-linecap="round" stroke-linejoin="round"><path d="M 156.01,49.2 L 156.01,37.5 M 153.31,42 L 156.01,37 L 158.71,42"/></g><text x="142.41" y="64.8" font-size="13.5" font-weight="700" fill="#f6f2ff">SiO<tspan font-size="9" dy="3.2">2</tspan></text><g stroke="#ffffff" stroke-opacity="0.8" fill="none" stroke-width="1.2" stroke-linecap="round" stroke-linejoin="round"><path d="M 156.01,115.1 L 156.01,105.9 M 154.01,108.9 L 156.01,105.4 L 158.01,108.9"/></g><text x="155.41" y="129.7" font-size="11.8" font-weight="700" fill="#ffffff" fill-opacity="0.9" text-anchor="middle">silicon</text></g></g></g><rect x="0" y="0" width="178.3" height="171.5" fill="none" stroke="#1a1a2a" stroke-opacity="0.75" stroke-width="1"/></g><g font-weight="700" fill="#111" stroke="#111" stroke-width="0.25"><text x="7.8" y="265.9" font-size="17.5">e</text><text x="58.2" y="263.1" font-size="13.4" text-anchor="end">150</text><text x="58.2" y="297.12" font-size="13.4" text-anchor="end">100</text><text x="58.2" y="331.14" font-size="13.4" text-anchor="end">50</text><text x="58.2" y="365.16" font-size="13.4" text-anchor="end">0</text><text x="58.2" y="399.18" font-size="13.4" text-anchor="end">-50</text><text x="58.2" y="433.2" font-size="13.4" text-anchor="end">-100</text><text x="62.1" y="445.3" font-size="13.4" text-anchor="middle">-80</text><text x="106.38" y="445.3" font-size="13.4" text-anchor="middle">-40</text><text x="151.35" y="445.3" font-size="13.4" text-anchor="middle">0</text><text x="195.93" y="445.3" font-size="13.4" text-anchor="middle">40</text><text x="240.5" y="445.3" font-size="13.4" text-anchor="middle">80</text><text x="151" y="462.9" font-size="15.4" text-anchor="middle">x (nm)</text><text transform="translate(24.2,346.8) rotate(-90)" font-size="15.4" text-anchor="middle">z (nm)</text></g><g transform="translate(326.6,257)"><g clip-path="url(#cpPanel)"><rect x="-1" y="-1" width="180.3" height="173.5" fill="#00008a"/><g transform="translate(0,-0.8)"><g filter="url(#b05)"><path d="M -11.14,103.6 C -10.14,112.6 -7.3,118.1 0,118.1 C 7.3,118.1 10.14,112.6 11.14,103.6 L 33.43,103.6 C 34.43,112.6 37.28,118.1 44.58,118.1 C 51.88,118.1 54.72,112.6 55.72,103.6 L 78.01,103.6 C 79.01,112.6 81.85,118.1 89.15,118.1 C 96.45,118.1 99.29,112.6 100.29,103.6 L 122.58,103.6 C 123.58,112.6 126.43,118.1 133.73,118.1 C 141.03,118.1 143.87,112.6 144.87,103.6 L 167.16,103.6 C 168.16,112.6 171,118.1 178.3,118.1 C 185.6,118.1 188.44,112.6 189.44,103.6 L 189.44,176.5 L -11.14,176.5 Z" fill="url(#gbf)"/></g><g clip-path="url(#cpSil)"><g filter="url(#b1)" fill="#8a0606" opacity="1"><ellipse cx="0" cy="118.6" rx="9" ry="5.2"/><ellipse cx="44.58" cy="118.6" rx="9" ry="5.2"/><ellipse cx="89.15" cy="118.6" rx="9" ry="5.2"/><ellipse cx="133.73" cy="118.6" rx="9" ry="5.2"/><ellipse cx="178.3" cy="118.6" rx="9" ry="5.2"/></g><g filter="url(#b1)"><path d="M 20.79,102.6 L 23.79,102.6 L 31.29,108.6 L 36.03,121.1 L 22.29,124.1 L 8.54,121.1 L 13.29,108.6 Z" fill="url(#gpf)"/><path d="M 65.36,102.6 L 68.36,102.6 L 75.86,108.6 L 80.61,121.1 L 66.86,124.1 L 53.12,121.1 L 57.86,108.6 Z" fill="url(#gpf)"/><path d="M 109.94,102.6 L 112.94,102.6 L 120.44,108.6 L 125.18,121.1 L 111.44,124.1 L 97.69,121.1 L 102.44,108.6 Z" fill="url(#gpf)"/><path d="M 154.51,102.6 L 157.51,102.6 L 165.01,108.6 L 169.76,121.1 L 156.01,124.1 L 142.27,121.1 L 147.01,108.6 Z" fill="url(#gpf)"/></g><g filter="url(#b2)" fill="#ff8a00" opacity="0.8"><ellipse cx="22.29" cy="118.6" rx="4.5" ry="3.2"/><ellipse cx="66.86" cy="118.6" rx="4.5" ry="3.2"/><ellipse cx="111.44" cy="118.6" rx="4.5" ry="3.2"/><ellipse cx="156.01" cy="118.6" rx="4.5" ry="3.2"/></g><g filter="url(#b1)" fill="none" stroke="#4a0303" stroke-width="4.4" opacity="0.9"><path d="M -10.54,108.6 C -9.54,114.1 -6.6,118.1 0,118.1 C 6.6,118.1 9.54,114.1 10.54,108.6"/><path d="M 34.03,108.6 C 35.03,114.1 37.98,118.1 44.58,118.1 C 51.18,118.1 54.12,114.1 55.12,108.6"/><path d="M 78.61,108.6 C 79.61,114.1 82.55,118.1 89.15,118.1 C 95.75,118.1 98.69,114.1 99.69,108.6"/><path d="M 123.18,108.6 C 124.18,114.1 127.13,118.1 133.73,118.1 C 140.33,118.1 143.27,114.1 144.27,108.6"/><path d="M 167.76,108.6 C 168.76,114.1 171.7,118.1 178.3,118.1 C 184.9,118.1 187.84,114.1 188.84,108.6"/></g><g filter="url(#b1)" fill="#e5ff1a"><ellipse cx="9.69" cy="119.6" rx="2.8" ry="2.2"/><ellipse cx="34.89" cy="119.6" rx="2.8" ry="2.2"/><ellipse cx="54.26" cy="119.6" rx="2.8" ry="2.2"/><ellipse cx="79.46" cy="119.6" rx="2.8" ry="2.2"/><ellipse cx="98.84" cy="119.6" rx="2.8" ry="2.2"/><ellipse cx="124.04" cy="119.6" rx="2.8" ry="2.2"/><ellipse cx="143.41" cy="119.6" rx="2.8" ry="2.2"/><ellipse cx="168.61" cy="119.6" rx="2.8" ry="2.2"/></g><g filter="url(#b1)" stroke="#61ff9e" stroke-width="2.8" fill="none" opacity="0.95"><path d="M 12.29,108.1 L 10.69,113.1"/><path d="M 32.29,108.1 L 33.89,113.1"/><path d="M 56.86,108.1 L 55.26,113.1"/><path d="M 76.86,108.1 L 78.46,113.1"/><path d="M 101.44,108.1 L 99.84,113.1"/><path d="M 121.44,108.1 L 123.04,113.1"/><path d="M 146.01,108.1 L 144.41,113.1"/><path d="M 166.01,108.1 L 167.61,113.1"/></g><g filter="url(#b05)" fill="#b01008"><rect x="11.44" y="103.6" width="8.64" height="3.0"/><rect x="24.49" y="103.6" width="8.64" height="3.0"/><rect x="56.02" y="103.6" width="8.64" height="3.0"/><rect x="69.06" y="103.6" width="8.64" height="3.0"/><rect x="100.59" y="103.6" width="8.64" height="3.0"/><rect x="113.64" y="103.6" width="8.64" height="3.0"/><rect x="145.17" y="103.6" width="8.64" height="3.0"/><rect x="158.21" y="103.6" width="8.64" height="3.0"/></g></g><g filter="url(#b08)"><g fill="#8c0808"><path d="M 11.99,35.4 C 11.39,29.46 15.9,25.5 22.29,25.5 C 28.67,25.5 33.19,29.46 32.59,35.4 Z"/><path d="M 56.56,35.4 C 55.96,29.46 60.48,25.5 66.86,25.5 C 73.25,25.5 77.76,29.46 77.16,35.4 Z"/><path d="M 101.14,35.4 C 100.54,29.46 105.05,25.5 111.44,25.5 C 117.82,25.5 122.34,29.46 121.74,35.4 Z"/><path d="M 145.71,35.4 C 145.11,29.46 149.63,25.5 156.01,25.5 C 162.4,25.5 166.91,29.46 166.31,35.4 Z"/></g><g fill="#8c0808" clip-path="url(#cpAirU)"><ellipse cx="0" cy="44.1" rx="8.8" ry="6"/><ellipse cx="44.58" cy="44.1" rx="8.8" ry="6"/><ellipse cx="89.15" cy="44.1" rx="8.8" ry="6"/><ellipse cx="133.73" cy="44.1" rx="8.8" ry="6"/><ellipse cx="178.3" cy="44.1" rx="8.8" ry="6"/></g></g><g filter="url(#b08)"><g fill="#a40c0c"><path d="M 11.99,103.6 C 11.39,97.66 15.9,93.7 22.29,93.7 C 28.67,93.7 33.19,97.66 32.59,103.6 Z"/><path d="M 56.56,103.6 C 55.96,97.66 60.48,93.7 66.86,93.7 C 73.25,93.7 77.76,97.66 77.16,103.6 Z"/><path d="M 101.14,103.6 C 100.54,97.66 105.05,93.7 111.44,93.7 C 117.82,93.7 122.34,97.66 121.74,103.6 Z"/><path d="M 145.71,103.6 C 145.11,97.66 149.63,93.7 156.01,93.7 C 162.4,93.7 166.91,97.66 166.31,103.6 Z"/></g><g fill="#b81208" clip-path="url(#cpAirL)"><ellipse cx="0" cy="113.4" rx="8.2" ry="4.9"/><ellipse cx="44.58" cy="113.4" rx="8.2" ry="4.9"/><ellipse cx="89.15" cy="113.4" rx="8.2" ry="4.9"/><ellipse cx="133.73" cy="113.4" rx="8.2" ry="4.9"/><ellipse cx="178.3" cy="113.4" rx="8.2" ry="4.9"/></g></g><g filter="url(#bt)"><rect x="21.19" y="100.6" width="2.2" height="3.5" fill="#ffdb00"/><ellipse cx="22.29" cy="99.1" rx="2.8" ry="2.2" fill="#8a7a30" stroke="#f2efb0" stroke-width="1.5"/><rect x="65.76" y="100.6" width="2.2" height="3.5" fill="#ffdb00"/><ellipse cx="66.86" cy="99.1" rx="2.8" ry="2.2" fill="#8a7a30" stroke="#f2efb0" stroke-width="1.5"/><rect x="110.34" y="100.6" width="2.2" height="3.5" fill="#ffdb00"/><ellipse cx="111.44" cy="99.1" rx="2.8" ry="2.2" fill="#8a7a30" stroke="#f2efb0" stroke-width="1.5"/><rect x="154.91" y="100.6" width="2.2" height="3.5" fill="#ffdb00"/><ellipse cx="156.01" cy="99.1" rx="2.8" ry="2.2" fill="#8a7a30" stroke="#f2efb0" stroke-width="1.5"/></g><path d="M -11.14,35.4 C -10.14,44.4 -7.3,49.9 0,49.9 C 7.3,49.9 10.14,44.4 11.14,35.4 L 33.43,35.4 C 34.43,44.4 37.28,49.9 44.58,49.9 C 51.88,49.9 54.72,44.4 55.72,35.4 L 78.01,35.4 C 79.01,44.4 81.85,49.9 89.15,49.9 C 96.45,49.9 99.29,44.4 100.29,35.4 L 122.58,35.4 C 123.58,44.4 126.43,49.9 133.73,49.9 C 141.03,49.9 143.87,44.4 144.87,35.4 L 167.16,35.4 C 168.16,44.4 171,49.9 178.3,49.9 C 185.6,49.9 188.44,44.4 189.44,35.4 " fill="none" stroke="#f4ecff" stroke-width="1.0" stroke-dasharray="2.1 1.4" filter="url(#bt)"/><path d="M -11.14,103.6 C -10.14,112.6 -7.3,118.1 0,118.1 C 7.3,118.1 10.14,112.6 11.14,103.6 L 33.43,103.6 C 34.43,112.6 37.28,118.1 44.58,118.1 C 51.88,118.1 54.72,112.6 55.72,103.6 L 78.01,103.6 C 79.01,112.6 81.85,118.1 89.15,118.1 C 96.45,118.1 99.29,112.6 100.29,103.6 L 122.58,103.6 C 123.58,112.6 126.43,118.1 133.73,118.1 C 141.03,118.1 143.87,112.6 144.87,103.6 L 167.16,103.6 C 168.16,112.6 171,118.1 178.3,118.1 C 185.6,118.1 188.44,112.6 189.44,103.6 " fill="none" stroke="#f4ecff" stroke-width="1.0" stroke-dasharray="2.1 1.4" filter="url(#bt)"/><g filter="url(#bt)"><g stroke="#ffffff" stroke-opacity="1" fill="none" stroke-width="1.6" stroke-linecap="round" stroke-linejoin="round"><path d="M 156.01,49.2 L 156.01,37.5 M 153.31,42 L 156.01,37 L 158.71,42"/></g><text x="142.41" y="64.8" font-size="13.5" font-weight="700" fill="#f6f2ff">SiO<tspan font-size="9" dy="3.2">2</tspan></text><g stroke="#ffffff" stroke-opacity="0.8" fill="none" stroke-width="1.2" stroke-linecap="round" stroke-linejoin="round"><path d="M 156.01,115.1 L 156.01,105.9 M 154.01,108.9 L 156.01,105.4 L 158.01,108.9"/></g><text x="155.41" y="129.7" font-size="11.8" font-weight="700" fill="#ffffff" fill-opacity="0.9" text-anchor="middle">silicon</text></g></g></g><rect x="0" y="0" width="178.3" height="171.5" fill="none" stroke="#1a1a2a" stroke-opacity="0.75" stroke-width="1"/></g><g font-weight="700" fill="#111" stroke="#111" stroke-width="0.25"><text x="273.7" y="265.5" font-size="17.5">f</text><text x="323.2" y="263.1" font-size="13.4" text-anchor="end">150</text><text x="323.2" y="297.12" font-size="13.4" text-anchor="end">100</text><text x="323.2" y="331.14" font-size="13.4" text-anchor="end">50</text><text x="323.2" y="365.16" font-size="13.4" text-anchor="end">0</text><text x="323.2" y="399.18" font-size="13.4" text-anchor="end">-50</text><text x="323.2" y="433.2" font-size="13.4" text-anchor="end">-100</text><text x="327.1" y="445.3" font-size="13.4" text-anchor="middle">-80</text><text x="371.38" y="445.3" font-size="13.4" text-anchor="middle">-40</text><text x="416.35" y="445.3" font-size="13.4" text-anchor="middle">0</text><text x="460.93" y="445.3" font-size="13.4" text-anchor="middle">40</text><text x="505.5" y="445.3" font-size="13.4" text-anchor="middle">80</text><text x="416" y="462.9" font-size="15.4" text-anchor="middle">x (nm)</text><text transform="translate(289.2,346.8) rotate(-90)" font-size="15.4" text-anchor="middle">z (nm)</text></g><rect x="560.1" y="29.5" width="6.6" height="167" fill="url(#gcb1)" filter="url(#bt)"/><g stroke="#222" stroke-width="0.8" stroke-opacity="0.85"><path d="M 560.6,196.5 L 569.3,196.5"/><path d="M 560.6,174.23 L 569.3,174.23"/><path d="M 560.6,151.96 L 569.3,151.96"/><path d="M 560.6,129.69 L 569.3,129.69"/><path d="M 560.6,107.42 L 569.3,107.42"/><path d="M 560.6,85.15 L 569.3,85.15"/><path d="M 560.6,62.88 L 569.3,62.88"/><path d="M 560.6,40.61 L 569.3,40.61"/></g><g font-size="8.3" fill="#3a3a3a"><text x="569.9" y="199.5">0.0</text><text x="569.9" y="177.23">0.2</text><text x="569.9" y="154.96">0.4</text><text x="569.9" y="132.69">0.6</text><text x="569.9" y="110.42">0.8</text><text x="569.9" y="88.15">1.0</text><text x="569.9" y="65.88">1.2</text><text x="569.9" y="43.61">1.4</text><text x="581.2" y="22.2" font-size="9.6">x10</text><text x="596.2" y="13.3" font-size="6">20</text></g><text transform="translate(545.3,187.9) rotate(-90)" font-size="15.7" font-weight="700" fill="#111" stroke="#111" stroke-width="0.25">Normalized P<tspan font-size="11.2" dy="3.4">abs</tspan><tspan dy="-3.4"> (m</tspan><tspan font-size="11.2" dy="-5.2">-3</tspan><tspan dy="5.2">)</tspan></text><rect x="560.1" y="274.5" width="6.6" height="166.7" fill="url(#gcb2)" filter="url(#bt)"/><g stroke="#222" stroke-width="0.8" stroke-opacity="0.85"><path d="M 560.6,441.2 L 569.3,441.2"/><path d="M 560.6,420.36 L 569.3,420.36"/><path d="M 560.6,399.52 L 569.3,399.52"/><path d="M 560.6,378.68 L 569.3,378.68"/><path d="M 560.6,357.84 L 569.3,357.84"/><path d="M 560.6,337 L 569.3,337"/><path d="M 560.6,316.16 L 569.3,316.16"/><path d="M 560.6,295.32 L 569.3,295.32"/><path d="M 560.6,274.48 L 569.3,274.48"/></g><g font-size="8.3" fill="#3a3a3a"><text x="569.9" y="444.2">0.0</text><text x="569.9" y="423.36">0.3</text><text x="569.9" y="402.52">0.6</text><text x="569.9" y="381.68">0.9</text><text x="569.9" y="360.84">1.2</text><text x="569.9" y="340">1.5</text><text x="569.9" y="319.16">1.8</text><text x="569.9" y="298.32">2.1</text><text x="569.9" y="277.48">2.4</text><text x="581.2" y="267.2" font-size="9.6">x10</text><text x="596.2" y="258.3" font-size="6">19</text></g><text transform="translate(545.3,432.6) rotate(-90)" font-size="15.7" font-weight="700" fill="#111" stroke="#111" stroke-width="0.25">Normalized P<tspan font-size="11.2" dy="3.4">abs</tspan><tspan dy="-3.4"> (m</tspan><tspan font-size="11.2" dy="-5.2">-3</tspan><tspan dy="5.2">)</tspan></text>
<rect x="0" y="0" width="606" height="1" fill="#3e3e3e"/>
<rect x="0" y="0" width="1" height="480" fill="#6e6e6e"/>
<rect x="604.6" y="0" width="1.4" height="480" fill="#707070"/>
<rect x="0" y="478.3" width="606" height="1.7" fill="#585858"/>
</svg>

</body></html>
